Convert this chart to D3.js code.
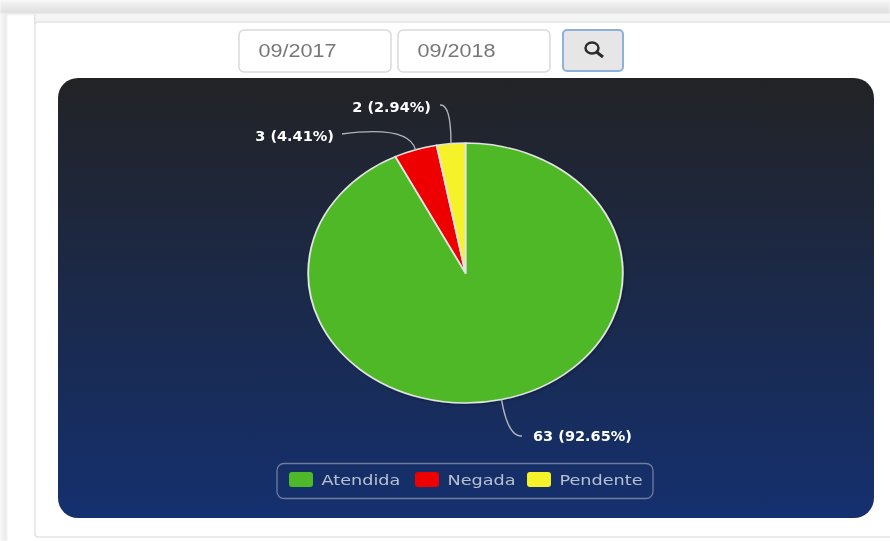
<!DOCTYPE html>
<html>
<head>
<meta charset="utf-8">
<script src="https://cdnjs.cloudflare.com/ajax/libs/d3/7.8.5/d3.min.js"></script>
<style>
html, body { margin: 0; padding: 0; background: #fff; overflow: hidden; }
svg { display: block; filter: blur(0.45px); }
</style>
</head>
<body>
<div id="chart-area"></div>
<script>
// chart values
var categories = ["Atendida", "Negada", "Pendente"];
var values = [63, 3, 2];
var percents = ["92.65", "4.41", "2.94"];
var colors = ["#4fb828", "#ee0000", "#f6f22a"];
var dates = ["09/2017", "09/2018"];

// the screenshot is stretched sideways, so everything is drawn squeezed then scaled
var w = 890, h = 541;
var sx = 1.21;
var cx = 465.5, cy = 273, radius = 130;

// where each connector ends and its label sits (page pixels)
var labelEnd = [[522, 436], [342, 134], [440, 105]];
var labelBend = [[508, 437], [409, 125], [451, 104]];
var labelX = [533, 334, 431];
var labelY = [441, 141, 112];
var labelAnchor = ["start", "end", "end"];
var legendX = [289, 415, 527];
var dateX = [239, 398];

var svg = d3.select("#chart-area").append("svg")
	.attr("width", w)
	.attr("height", h);

var defs = svg.append("defs");

var grad = defs.append("linearGradient")
	.attr("id", "bg")
	.attr("x1", 0).attr("y1", 0)
	.attr("x2", 0).attr("y2", 1);
grad.append("stop").attr("offset", "0%").attr("stop-color", "#222325");
grad.append("stop").attr("offset", "100%").attr("stop-color", "#14306f");

var topGrad = defs.append("linearGradient")
	.attr("id", "topbar")
	.attr("x1", 0).attr("y1", 0)
	.attr("x2", 0).attr("y2", 1);
topGrad.append("stop").attr("offset", "0%").attr("stop-color", "#f6f6f6");
topGrad.append("stop").attr("offset", "100%").attr("stop-color", "#dcdcdc");

var leftGrad = defs.append("linearGradient")
	.attr("id", "leftbar")
	.attr("x1", 0).attr("y1", 0)
	.attr("x2", 1).attr("y2", 0);
leftGrad.append("stop").attr("offset", "0%").attr("stop-color", "#f8f8f8");
leftGrad.append("stop").attr("offset", "100%").attr("stop-color", "#e6e6e6");

defs.append("filter").attr("id", "edge")
	.append("feGaussianBlur").attr("stdDeviation", 1.2);

var shadow = defs.append("filter").attr("id", "pieShadow")
	.attr("x", "-10%").attr("y", "-10%").attr("width", "120%").attr("height", "120%");
shadow.append("feDropShadow")
	.attr("dx", 1).attr("dy", 1).attr("stdDeviation", 1.5)
	.attr("flood-color", "#000").attr("flood-opacity", 0.3);

// page frame
svg.append("rect").attr("width", w).attr("height", 14).attr("fill", "url(#topbar)").attr("filter", "url(#edge)");
svg.append("rect").attr("y", 14).attr("width", 7).attr("height", h - 14).attr("fill", "url(#leftbar)").attr("filter", "url(#edge)");
svg.append("rect").attr("x", 35).attr("y", 14).attr("width", w).attr("height", 8).attr("fill", "#f5f5f5");
svg.append("rect")
	.attr("x", 35).attr("y", 22).attr("width", w).attr("height", 515).attr("rx", 3)
	.attr("fill", "#fff").attr("stroke", "#e3e3e3").attr("stroke-width", 1.5);
svg.append("rect").attr("x", 34).attr("y", 14).attr("width", 1.5).attr("height", 10).attr("fill", "#e3e3e3");

// date inputs and search button
var inputs = svg.append("g").selectAll("g").data(dates).enter().append("g")
	.attr("transform", (d, i) => { return "translate(" + dateX[i] + ",30)"; });

inputs.append("rect")
	.attr("width", 152).attr("height", 42).attr("rx", 5)
	.attr("fill", "#fff").attr("stroke", "#dadada").attr("stroke-width", 1.5);

inputs.append("text")
	.attr("transform", "translate(19.5,27) scale(1.2,1)")
	.attr("font-family", "Liberation Sans")
	.attr("font-size", 18)
	.attr("fill", "#777")
	.text((d) => { return d; });

svg.append("rect")
	.attr("x", 563).attr("y", 30).attr("width", 60).attr("height", 41).attr("rx", 4)
	.attr("fill", "#e6e6e6").attr("stroke", "#8fb0de").attr("stroke-width", 2);

var icon = svg.append("g").attr("transform", "translate(592,48)");
icon.append("ellipse")
	.attr("rx", 6.5).attr("ry", 5.5)
	.attr("fill", "none").attr("stroke", "#2a2a2a").attr("stroke-width", 2.4);
icon.append("line")
	.attr("x1", 4.5).attr("y1", 4).attr("x2", 11).attr("y2", 9)
	.attr("stroke", "#2a2a2a").attr("stroke-width", 3);

// chart background
svg.append("rect")
	.attr("x", 58).attr("y", 78).attr("width", 816).attr("height", 440).attr("rx", 20)
	.attr("fill", "url(#bg)");

// pie
var pie = d3.pie().sort(null).value((d) => { return d; });
var arc = d3.arc().innerRadius(0).outerRadius(radius);
var slices = pie(values);

svg.append("g")
	.attr("transform", "translate(" + cx + "," + cy + ") scale(" + sx + ",1)")
	.attr("filter", "url(#pieShadow)")
	.selectAll("path").data(slices).enter().append("path")
	.attr("d", arc)
	.attr("fill", (d, i) => { return colors[i]; })
	.attr("stroke", "#e4e4e4")
	.attr("stroke-width", 1.5)
	.attr("stroke-linejoin", "round");

// connectors start on the rim at each slice's middle angle
function rimPoint(d) {
	var a = (d.startAngle + d.endAngle) / 2;
	return [cx + Math.sin(a) * radius * sx, cy - Math.cos(a) * radius];
}

svg.append("g").selectAll("path").data(slices).enter().append("path")
	.attr("fill", "none")
	.attr("stroke", "#b0b3ba")
	.attr("stroke-width", 1.4)
	.attr("d", (d, i) => {
		var p = rimPoint(d);
		var c = labelBend[i];
		var e = labelEnd[i];
		return "M" + p[0] + "," + p[1] + "Q" + c[0] + "," + c[1] + " " + e[0] + "," + e[1];
	});

svg.append("g").selectAll("text").data(slices).enter().append("text")
	.attr("transform", (d, i) => {
		return "translate(" + labelX[i] + "," + labelY[i] + ") scale(" + sx + ",1.15)";
	})
	.attr("text-anchor", (d, i) => { return labelAnchor[i]; })
	.attr("font-family", "DejaVu Sans")
	.attr("font-weight", "bold")
	.attr("font-size", 12)
	.attr("fill", "#fff")
	.text((d, i) => { return values[i] + " (" + percents[i] + "%)"; });

// legend
svg.append("rect")
	.attr("x", 277).attr("y", 463.5).attr("width", 376).attr("height", 35).attr("rx", 7)
	.attr("fill", "none").attr("stroke", "#6f7c9c").attr("stroke-width", 1.3);

var legend = svg.append("g").selectAll("g").data(categories).enter().append("g")
	.attr("transform", (d, i) => { return "translate(" + legendX[i] + ",472)"; });

legend.append("rect")
	.attr("width", 24).attr("height", 15).attr("rx", 3)
	.attr("fill", (d, i) => { return colors[i]; });

legend.append("text")
	.attr("transform", "translate(32.5,13) scale(" + sx + ",1)")
	.attr("font-family", "DejaVu Sans")
	.attr("font-size", 14.6)
	.attr("fill", "#b8c0d0")
	.text((d) => { return d; });
</script>
</body>
</html>
